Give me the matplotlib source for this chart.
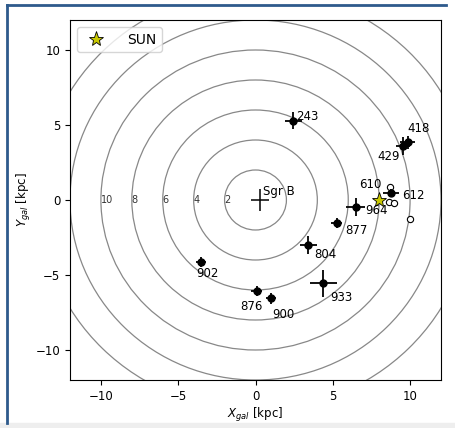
import matplotlib
matplotlib.use('Agg')
import matplotlib.pyplot as plt
from matplotlib.patches import Circle
from matplotlib.lines import Line2D

# galactocentric positions of the sources [kpc]
names = ['243', '418', '429', '612', '964', '877', '804', '933', '876', '900', '902']
x_gal = [2.45, 9.85, 9.55, 8.77, 6.47, 5.26, 3.42, 4.37, 0.09, 1.00, -3.53]
y_gal = [5.30, 3.85, 3.60, 0.50, -0.45, -1.52, -3.00, -5.55, -6.06, -6.55, -4.11]
x_err = [0.54, 0.50, 0.45, 0.50, 0.60, 0.36, 0.57, 0.87, 0.35, 0.35, 0.35]
y_err = [0.58, 0.45, 0.60, 0.25, 0.60, 0.33, 0.58, 0.90, 0.35, 0.35, 0.33]

# alternative (open) positions
alt_names = ['610', '', '', '']
alt_x = [8.68, 8.66, 8.98, 10.0]
alt_y = [0.88, -0.15, -0.20, -1.25]

sgrb_x, sgrb_y = 0.3, 0.0
sgrb_xerr, sgrb_yerr = 0.6, 0.75
sun_x, sun_y = 8.0, 0.0

ring_radii = [2, 4, 6, 8, 10, 12, 14]
ring_labels = [2, 4, 6, 8, 10]

# label offsets in pixels (text left / baseline relative to point)
label_offsets = {
    '243': (2.3, 0.7), '418': (0, 10.3), '429': (-25.7, -14.3), '610': (-30.3, -1.3),
    '612': (11.3, -6.7), '964': (9.3, -7.7), '877': (8, -11.7), '804': (6.3, -13.3),
    '933': (6.7, -18), '876': (-16.3, -19.3), '900': (1.7, -20), '902': (-4.7, -15.7),
}

FS = 8.5
plt.rcParams['font.size'] = FS

fig = plt.figure(figsize=(4.56, 4.28), dpi=100)
ax = fig.add_axes([70/456, 48/428, 371/456, 360/428])

for r in ring_radii:
    ax.add_patch(Circle((0, 0), r, fill=False, edgecolor='#888888', lw=0.9, zorder=1))
for r in ring_labels:
    ax.text(-r, 0, str(r), fontsize=7, color='#333333', ha='left', va='center', zorder=2)

ax.errorbar(x_gal, y_gal, xerr=x_err, yerr=y_err, fmt='o', color='black', ms=5,
            elinewidth=1.3, capsize=0, zorder=5)
ax.plot(alt_x, alt_y, 'o', mfc='white', mec='black', ms=4.5, mew=0.8, zorder=4)
ax.errorbar([sgrb_x], [sgrb_y], xerr=[sgrb_xerr], yerr=[sgrb_yerr], fmt='none',
            ecolor='black', elinewidth=1.1, capsize=0, zorder=5)
ax.plot([sun_x], [sun_y], '*', color='#c8c800', mec='black', mew=0.6, ms=11,
        zorder=6, label='SUN', linestyle='none')

px = 0.72
for n, x, y in zip(names, x_gal, y_gal):
    dx, dy = label_offsets[n]
    ax.annotate(n, (x, y), xytext=(dx*px, dy*px), textcoords='offset points',
                ha='left', va='baseline', fontsize=FS, zorder=7)
for n, x, y in zip(alt_names, alt_x, alt_y):
    if n:
        dx, dy = label_offsets[n]
        ax.annotate(n, (x, y), xytext=(dx*px, dy*px), textcoords='offset points',
                    ha='left', va='baseline', fontsize=FS, zorder=7)
ax.annotate('Sgr B', (sgrb_x, sgrb_y), xytext=(3*px, 5*px), textcoords='offset points',
            ha='left', va='baseline', fontsize=FS, zorder=7)

ax.set_xlim(-12, 12)
ax.set_ylim(-12, 12)
ax.set_xticks([-10, -5, 0, 5, 10])
ax.set_yticks([-10, -5, 0, 5, 10])
ax.set_xlabel('$X_{gal}$ [kpc]', labelpad=2)
ax.set_ylabel('$Y_{gal}$ [kpc]', labelpad=2)
ax.legend(loc='upper left', fontsize=10, handletextpad=1.2, borderpad=0.4)

# slide frame
fig.add_artist(Line2D([7/456, 7/456], [1-423/428, 1-5/428], color='#2e5a8c', lw=2))
fig.add_artist(Line2D([7/456, 446/456], [1-5/428, 1-5/428], color='#2e5a8c', lw=2))
fig.patches.append(plt.Rectangle((0, 0), 1, 5/428, transform=fig.transFigure,
                                 color='#eeeeee', zorder=0))

fig.savefig('out.png', dpi=100)
